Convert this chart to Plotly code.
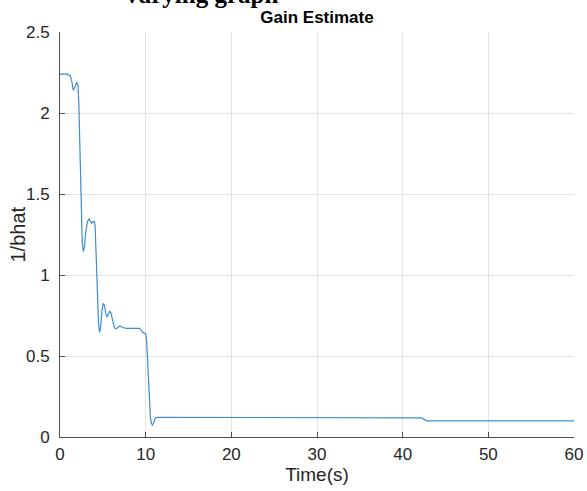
import plotly.graph_objects as go

time_s = [0, 0.8, 1.2, 1.4, 1.55, 1.75, 1.95, 2.1, 2.2, 2.3, 2.4, 2.5, 2.6, 2.72, 2.85, 3.0, 3.2,
          3.4, 3.55, 3.7, 3.85, 4.0, 4.1, 4.2, 4.3, 4.4, 4.5, 4.62, 4.75, 4.9, 5.05, 5.2, 5.35,
          5.5, 5.65, 5.8, 5.95, 6.15, 6.35, 6.55, 6.8, 7.0, 7.3, 7.8, 9.3, 9.5, 9.7, 10.0, 10.1,
          10.2, 10.3, 10.4, 10.55, 10.7, 10.8, 10.95, 11.1, 11.3, 20, 30, 30.2, 42.2, 42.8, 60]
inv_bhat = [2.24, 2.24, 2.23, 2.19, 2.14, 2.16, 2.19, 2.17, 2.05, 1.8, 1.5, 1.3, 1.2, 1.145, 1.17,
            1.26, 1.33, 1.345, 1.335, 1.32, 1.33, 1.33, 1.3, 1.15, 0.95, 0.8, 0.7, 0.645, 0.68,
            0.78, 0.825, 0.81, 0.76, 0.74, 0.765, 0.778, 0.765, 0.71, 0.675, 0.668, 0.68, 0.685,
            0.676, 0.671, 0.671, 0.66, 0.645, 0.636, 0.6, 0.5, 0.37, 0.23, 0.12, 0.08, 0.074,
            0.09, 0.115, 0.122, 0.122, 0.122, 0.118, 0.118, 0.1, 0.1]

x_ticks = [0, 10, 20, 30, 40, 50, 60]
y_ticks = [0, 0.5, 1, 1.5, 2, 2.5]
y_tick_labels = ["0", "0.5", "1", "1.5", "2", "2.5"]

font_family = "Liberation Sans, Arial, sans-serif"
axis_color = "#4d4d4d"
grid_color = "#e3e3e3"

fig = go.Figure()
fig.add_trace(go.Scatter(x=time_s, y=inv_bhat, mode="lines",
                         line=dict(color="#3b8fd0", width=1.2), showlegend=False))

fig.update_layout(
    width=587, height=491,
    margin=dict(l=60, r=13, t=32, b=54),
    paper_bgcolor="white", plot_bgcolor="white",
    font=dict(family=font_family, size=16, color="#262626"),
    title=dict(text="<b>Gain Estimate</b>", x=(317) / 587, xanchor="center",
               y=1 - 17 / 491, yanchor="middle", font=dict(size=17, color="#000000")),
    xaxis=dict(range=[0, 60], tickvals=x_ticks, ticks="inside", ticklen=5,
               tickcolor=axis_color, showline=True, linecolor=axis_color, linewidth=1,
               showgrid=True, gridcolor=grid_color, zeroline=False, mirror=False,
               automargin=False, ticklabelstandoff=2,
               title=dict(text="Time(s)", standoff=4), tickfont=dict(size=17, color="#262626")),
    yaxis=dict(range=[0, 2.5], tickvals=y_ticks, ticktext=y_tick_labels, ticks="inside",
               ticklen=5, tickcolor=axis_color, showline=True, linecolor=axis_color,
               linewidth=1, showgrid=True, gridcolor=grid_color, zeroline=False,
               automargin=False, ticklabelstandoff=6,
               tickfont=dict(size=17, color="#262626")),
    annotations=[
        dict(text="1/bhat", xref="paper", yref="paper", x=(17 - 60) / 514, xanchor="center",
             y=0.5, yanchor="middle", textangle=-90, showarrow=False,
             font=dict(family=font_family, size=20, color="#262626")),
        dict(text="<b>Varying graph</b>", xref="paper", yref="paper",
             x=(200 - 60) / 514, xanchor="center", y=1 + (32 - 10) / 405, yanchor="bottom",
             showarrow=False, font=dict(family="Liberation Serif, Times New Roman, serif",
                                        size=25, color="#000000")),
    ],
)

fig.write_html("out.html")
